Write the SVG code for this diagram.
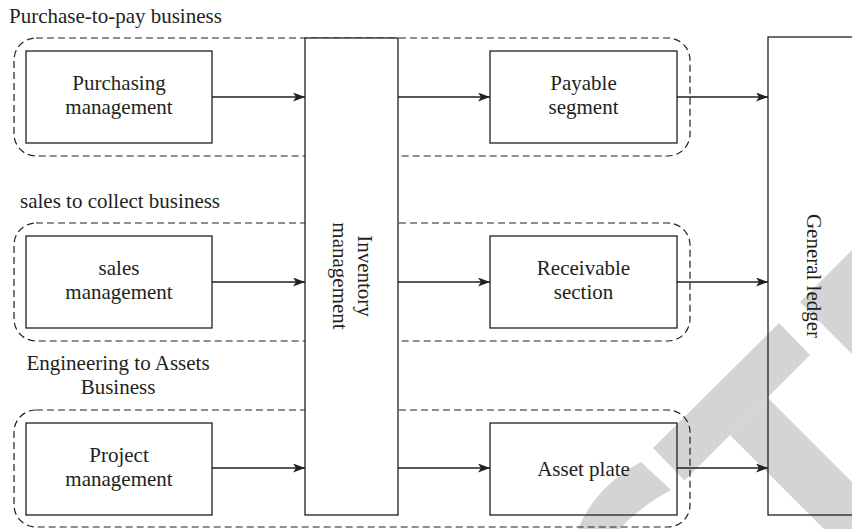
<svg xmlns="http://www.w3.org/2000/svg" width="852" height="529" viewBox="0 0 852 529">
  <style>
    text { font-family: "Liberation Serif", "Times New Roman", serif; font-size: 21px; fill: #231f20; }
    .c { text-anchor: middle; }
    .box { fill: none; stroke: #231f20; stroke-width: 1.3; }
    .wbox { fill: #ffffff; stroke: #231f20; stroke-width: 1.3; }
    .group { fill: none; stroke: #231f20; stroke-width: 1.2; stroke-dasharray: 7 4; }
    .conn { fill: none; stroke: #231f20; stroke-width: 1.3; marker-end: url(#arrow); }
    .wm { fill: #d4d4d4; stroke: none; }
  </style>
  <defs>
    <marker id="arrow" markerUnits="userSpaceOnUse" markerWidth="13" markerHeight="10" refX="12" refY="4.5" orient="auto">
      <path d="M0,0 L12,4.5 L0,9 L3,4.5 Z" fill="#231f20"/>
    </marker>
  </defs>
  <rect width="852" height="529" fill="#ffffff"/>

  <!-- watermark shapes -->
  <g id="watermark">
    <path class="wm" d="M578,529 Q596,486 641,462 L671,490 Q638,508 620,529 Z"/>
    <polygon class="wm" points="779,323 810,355 684.5,480.5 653,448"/>
    <polygon class="wm" points="767.5,397.5 945,575 870,575 730,435"/>
    <polygon class="wm" points="800,302 875,227 935,290 860,362"/>
  </g>

  <!-- group outlines -->
  <g id="groups">
    <rect class="group" x="14" y="38" width="676" height="118" rx="22" ry="22"/>
    <rect class="group" x="14" y="223" width="676" height="118" rx="22" ry="22"/>
    <rect class="group" x="14" y="410" width="676" height="117" rx="22" ry="22"/>
  </g>

  <g id="group-labels">
    <text x="9" y="23">Purchase-to-pay business</text>
    <text x="20" y="208">sales to collect business</text>
    <text class="c" x="118" y="370">Engineering to Assets</text>
    <text class="c" x="118" y="394">Business</text>
  </g>

  <g id="inventory">
    <rect class="wbox" x="305" y="38" width="93" height="477"/>
    <g transform="translate(351.5,276) rotate(90)">
      <text class="c" x="0" y="-6">Inventory</text>
      <text class="c" x="0" y="18.5">management</text>
    </g>
  </g>

  <g id="general-ledger">
    <rect class="box" x="768" y="37" width="100" height="478"/>
    <g transform="translate(812,276) rotate(90)">
      <text class="c" x="0" y="5">General ledger</text>
    </g>
  </g>

  <g id="purchasing">
    <rect class="box" x="26" y="51" width="186" height="92"/>
    <text class="c" x="119" y="90">Purchasing</text>
    <text class="c" x="119" y="114">management</text>
  </g>
  <g id="payable">
    <rect class="box" x="490" y="51" width="187" height="92"/>
    <text class="c" x="583.5" y="90">Payable</text>
    <text class="c" x="583.5" y="114">segment</text>
  </g>

  <g id="sales">
    <rect class="box" x="26" y="236" width="186" height="92"/>
    <text class="c" x="119" y="275">sales</text>
    <text class="c" x="119" y="299">management</text>
  </g>
  <g id="receivable">
    <rect class="box" x="490" y="236" width="187" height="92"/>
    <text class="c" x="583.5" y="275">Receivable</text>
    <text class="c" x="583.5" y="299">section</text>
  </g>

  <g id="project">
    <rect class="box" x="26" y="423" width="186" height="92"/>
    <text class="c" x="119" y="462">Project</text>
    <text class="c" x="119" y="486">management</text>
  </g>
  <g id="asset">
    <rect class="box" x="490" y="423" width="187" height="92"/>
    <text class="c" x="583.5" y="476">Asset plate</text>
  </g>

  <g id="connectors">
    <line class="conn" x1="212" y1="97" x2="305" y2="97"/>
    <line class="conn" x1="398" y1="97" x2="490" y2="97"/>
    <line class="conn" x1="677" y1="97" x2="768" y2="97"/>
    <line class="conn" x1="212" y1="282" x2="305" y2="282"/>
    <line class="conn" x1="398" y1="282" x2="490" y2="282"/>
    <line class="conn" x1="677" y1="282" x2="768" y2="282"/>
    <line class="conn" x1="212" y1="468" x2="305" y2="468"/>
    <line class="conn" x1="398" y1="468" x2="490" y2="468"/>
    <line class="conn" x1="677" y1="468" x2="768" y2="468"/>
  </g>
</svg>
